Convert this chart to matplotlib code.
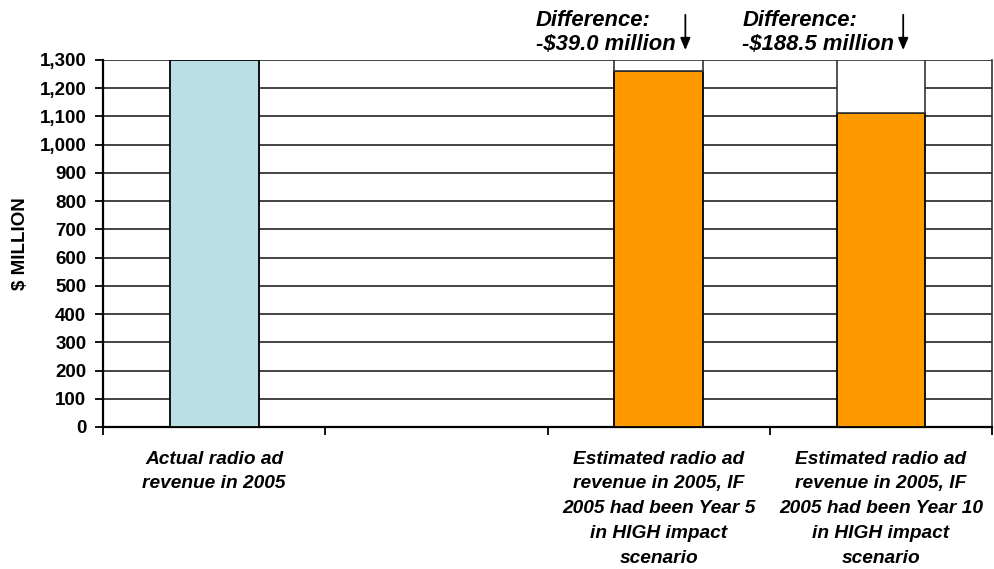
import matplotlib
matplotlib.use("Agg")
import matplotlib.pyplot as plt
from matplotlib.ticker import FuncFormatter

plt.rcParams["font.family"] = ["Liberation Sans", "DejaVu Sans"]

# Data ($ million)
categories = [
    "Actual radio ad\nrevenue in 2005",
    "",
    "Estimated radio ad\nrevenue in 2005, IF\n2005 had been Year 5\nin HIGH impact\nscenario",
    "Estimated radio ad\nrevenue in 2005, IF\n2005 had been Year 10\nin HIGH impact\nscenario",
]
actual_2005 = 1300.0
differences = [39.0, 188.5]          # shortfall vs. actual for Year 5 / Year 10
estimate_positions = [2, 3]
estimates = [actual_2005 - d for d in differences]
diff_labels = ["Difference:\n-$39.0 million", "Difference:\n-$188.5 million"]
y_ticks = list(range(0, 1301, 100))

fig = plt.figure(figsize=(9.94, 5.69), dpi=100)
ax = fig.add_axes([0.1036, 0.2496, 0.8945, 0.645])

bar_w = 0.4
edge = "#000000"

# Actual revenue bar
ax.bar(0, actual_2005, width=bar_w, color="#BBE0E3", edgecolor=edge, linewidth=1.3, zorder=3)

# Estimated bars, with the shortfall drawn as an empty box on top
ax.bar(estimate_positions, estimates, width=bar_w, color="#FF9900",
       edgecolor=edge, linewidth=1.3, zorder=3)
ax.bar(estimate_positions, differences, bottom=estimates, width=bar_w,
       color="white", edgecolor="#333333", linewidth=1.2, zorder=3)

ax.set_xlim(-0.5, len(categories) - 0.5)
ax.set_ylim(0, max(y_ticks))
ax.set_yticks(y_ticks)
ax.yaxis.set_major_formatter(FuncFormatter(lambda v, p: f"{int(v):,}"))
ax.grid(axis="y", color="#111111", linewidth=1.1, zorder=0)
ax.set_axisbelow(True)

# Category ticks sit on the boundaries between slots
ax.set_xticks([i - 0.5 for i in range(len(categories) + 1)])
ax.set_xticklabels([])
ax.tick_params(axis="x", direction="out", length=6, width=1.3, color="#000000")
ax.tick_params(axis="y", direction="out", length=6, width=1.3, color="#000000",
               labelsize=13.5, pad=6)
for lbl in ax.get_yticklabels():
    lbl.set_fontweight("bold")

for side in ["left", "bottom"]:
    ax.spines[side].set_linewidth(1.6)
    ax.spines[side].set_color("#000000")
ax.spines["top"].set_visible(False)
ax.spines["right"].set_linewidth(1.2)
ax.spines["right"].set_color("#333333")

for i, cat in enumerate(categories):
    if cat:
        ax.text(i, -84, cat, ha="center", va="top", fontsize=13.8,
                fontweight="bold", fontstyle="italic", linespacing=1.6)

ax.set_ylabel("$ MILLION", fontsize=13.5, fontweight="bold")
ax.yaxis.set_label_coords(-0.0834, 0.5)

# Shortfall annotations above the estimated bars
for pos, lbl, dx_text, dx_arrow in zip(estimate_positions, diff_labels,
                                       [-0.554, -0.624], [0.12, 0.10]):
    ax.text(pos + dx_text, 1335, lbl, ha="left", va="baseline", fontsize=15.8,
            fontweight="bold", fontstyle="italic", linespacing=1.22,
            clip_on=False)
    ax.annotate("", xy=(pos + dx_arrow, 1335), xytext=(pos + dx_arrow, 1460),
                arrowprops=dict(arrowstyle="-|>,head_length=0.6,head_width=0.25",
                                color="#000000", lw=1.3, shrinkA=0, shrinkB=0,
                                mutation_scale=12),
                annotation_clip=False)

fig.savefig("out.png", dpi=100)
